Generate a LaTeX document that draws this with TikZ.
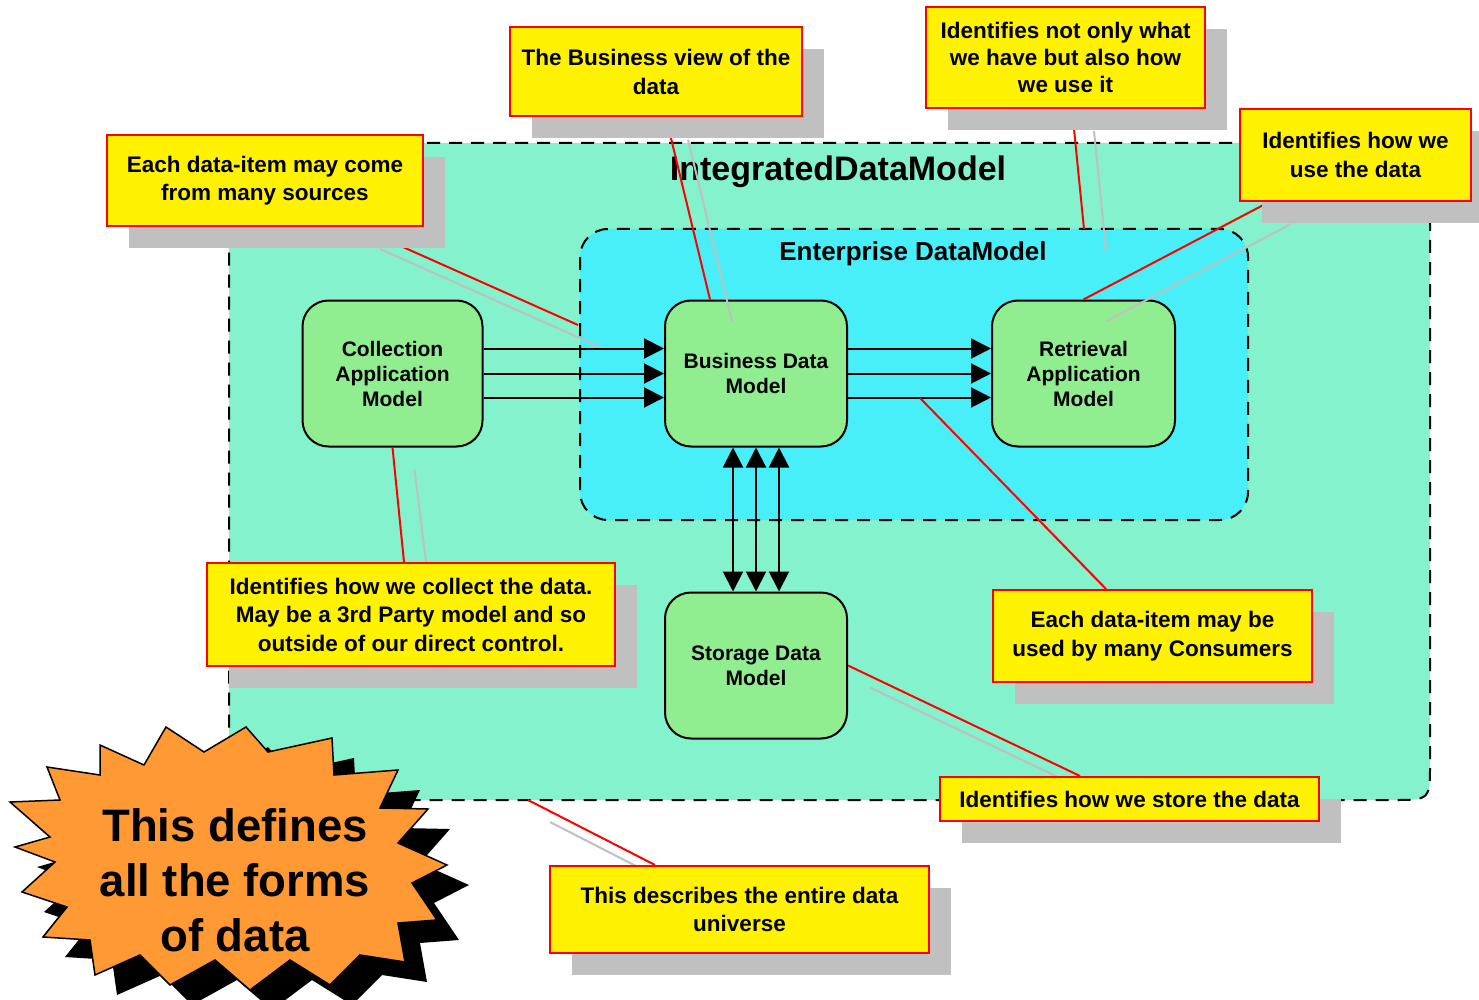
\documentclass[tikz,border=0pt]{standalone}
\usepackage{fontspec}
\setmainfont{Liberation Sans}
\usetikzlibrary{arrows.meta,calc,shadows}
\pgfdeclarelayer{background}
\pgfdeclarelayer{lines}
\pgfdeclarelayer{callouts}
\pgfsetlayers{background,main,lines,callouts}
\definecolor{outerfill}{RGB}{132,242,204}
\definecolor{innerfill}{RGB}{72,238,248}
\definecolor{nodegreen}{RGB}{144,238,144}
\definecolor{shadowgrey}{RGB}{192,192,192}
\definecolor{burstorange}{RGB}{255,153,51}
\begin{document}
\begin{tikzpicture}[x=1pt,y=-1pt,
  model/.style={draw=black,line width=2pt,fill=nodegreen,rounded corners=26pt,minimum width=182pt,minimum height=146pt,align=center,inner sep=0pt,font=\fontsize{21}{25}\selectfont\bfseries},
  callout/.style={draw=red,line width=2pt,fill=yellow,align=center,inner sep=0pt,font=\fontsize{22.5}{28.5}\selectfont\bfseries,
     drop shadow={shadow xshift=22pt,shadow yshift=-22pt,fill=shadowgrey,opacity=1,draw=none}},
  region/.style={draw=black,line width=2pt,dash pattern=on 13pt off 9pt},
  flow/.style={line width=2pt,-{Triangle[length=20pt,width=20pt]}},
  twoway/.style={line width=2pt,{Triangle[length=20pt,width=20pt]}-{Triangle[length=20pt,width=20pt]}},
  pointer/.style={draw=red,line width=2pt},
  pshadow/.style={draw=shadowgrey,line width=2pt},
]
\useasboundingbox (0,0) rectangle (1479,1000);

% regions
\begin{pgfonlayer}{background}
\fill[white] (0,0) rectangle (1479,1000);
\coordinate (otl) at (229,143);
\coordinate (obr) at (1430,800);
\path[region,fill=outerfill] (otl) -- (1430,143) -- (1430,763) .. controls (1430,800) .. (1393,800) -- (229,800) -- cycle;
\path[region,fill=innerfill,rounded corners=28pt] (580,229) rectangle (1248,520);
\end{pgfonlayer}

\node[font=\fontsize{34}{38}\selectfont\bfseries] (idm) at (838,172) {IntegratedDataModel};
\node[font=\fontsize{26}{30}\selectfont\bfseries] (edm) at (913,254) {Enterprise DataModel};

% models
\node[model,minimum width=180pt] (col) at (392.5,373.5) {Collection\\Application\\Model};
\node[model] (bus) at (756,373.5) {Business Data\\Model};
\node[model,minimum width=183pt] (ret) at (1083.5,373.5) {Retrieval\\Application\\Model};
\node[model] (sto) at (756,665.5) {Storage Data\\Model};

\foreach \dy in {-25,0,24} {
  \draw[flow] ($(col.east)+(0,\dy)$) -- ($(bus.west)+(0,\dy)$);
  \draw[flow] ($(bus.east)+(0,\dy)$) -- ($(ret.west)+(0,\dy)$);
}
\foreach \dx in {-23,0,23}
  \draw[twoway] ($(bus.south)+(\dx,0)$) -- ($(sto.north)+(\dx,0)$);

% callouts
\begin{pgfonlayer}{callouts}
\node[callout,minimum width=292pt,minimum height=89pt] (c1) at (656,72) {The Business view of the\\data};
\node[callout,minimum width=279pt,minimum height=101pt,font=\fontsize{22.5}{27}\selectfont\bfseries] (c2) at (1065.5,57.5) {Identifies not only what\\we have but also how\\we use it};
\node[callout,minimum width=231pt,minimum height=92pt] (c3) at (1355.5,155) {Identifies how we\\use the data};
\node[callout,minimum width=316pt,minimum height=91pt] (c4) at (265,180.5) {Each data-item may come\\from many sources};
\node[callout,minimum width=408pt,minimum height=103pt] (c5) at (411,614.5) {Identifies how we collect the data.\\May be a 3rd Party model and so\\outside of our direct control.};
\node[callout,minimum width=319pt,minimum height=92pt] (c6) at (1152.5,636) {Each data-item may be\\used by many Consumers};
\node[callout,minimum width=379pt,minimum height=44pt] (c7) at (1129.5,799) {Identifies how we store the data};
\node[callout,minimum width=379pt,minimum height=87pt] (c8) at (739.5,909.5) {This describes the entire data\\universe};
\end{pgfonlayer}

% pointer lines
\coordinate (e2) at (1084,229);
\coordinate (e4) at (578,325);
\coordinate (e6) at (920,398);
\coordinate (e8) at (528,800);
\begin{pgfonlayer}{lines}
\draw[pshadow] ($(c1.south)+(32,22)$) -- ($(bus.north)+(-24,22)$);
\draw[pointer] ($(c1.south)+(10,0)$) -- ($(bus.north)+(-46,0)$);
\draw[pshadow] ($(c2.south)+(28.5,22)$) -- ($(e2)+(22,22)$);
\draw[pointer] ($(c2.south)+(6.5,0)$) -- (e2);
\draw[pshadow] ($(c3.south)+(-64.5,22)$) -- ($(ret.north)+(22,22)$);
\draw[pointer] ($(c3.south)+(-86.5,0)$) -- (ret.north);
\draw[pshadow] ($(c4.south)+(115,22)$) -- ($(e4)+(22,22)$);
\draw[pointer] ($(c4.south)+(93,0)$) -- (e4);
\draw[pshadow] ($(c5.north)+(15,0)$) -- ($(col.south)+(22,22)$);
\draw[pointer] ($(c5.north)+(-7,0)$) -- (col.south);
\draw[pshadow] ($(c6.north)+(-24.5,22)$) -- ($(e6)+(22,22)$);
\draw[pointer] ($(c6.north)+(-46.5,0)$) -- (e6);
\draw[pshadow] ($(c7.north)+(-27.5,22)$) -- ($(sto.east)+(22,22)$);
\draw[pointer] ($(c7.north)+(-49.5,0)$) -- (sto.east);
\draw[pshadow] ($(c8.north)+(-62.5,22)$) -- ($(e8)+(22,22)$);
\draw[pointer] ($(c8.north)+(-84.5,0)$) -- (e8);
\end{pgfonlayer}

% starburst
\begin{pgfonlayer}{callouts}
\def\burstpath{(100,745) -- (144,765) -- (166,727) -- (204,752) -- (246,727) -- (268,752) -- (332,738) -- (334,775) -- (398,770) -- (380,808) -- (428,809) -- (398,843) -- (447,865) -- (412,883) -- (437,920) -- (398,923) -- (405,962) -- (360,955) -- (330,985) -- (290,960) -- (250,990) -- (215,960) -- (170,985) -- (140,955) -- (95,975) -- (90,940) -- (43,937) -- (67,907) -- (22,892) -- (55,862) -- (15,847) -- (50,837) -- (10,802) -- (60,800) -- (47,767) -- (100,775) -- cycle}
\begin{scope}[shift={(22,20)}]
\fill[black] \burstpath;
\end{scope}
\draw[fill=burstorange,line width=1.5pt,line join=miter] \burstpath;
\node[align=center,font=\fontsize{45.5}{55}\selectfont\bfseries] (burst) at (235,880) {This defines\\all the forms\\of data};
\end{pgfonlayer}
\end{tikzpicture}
\end{document}
